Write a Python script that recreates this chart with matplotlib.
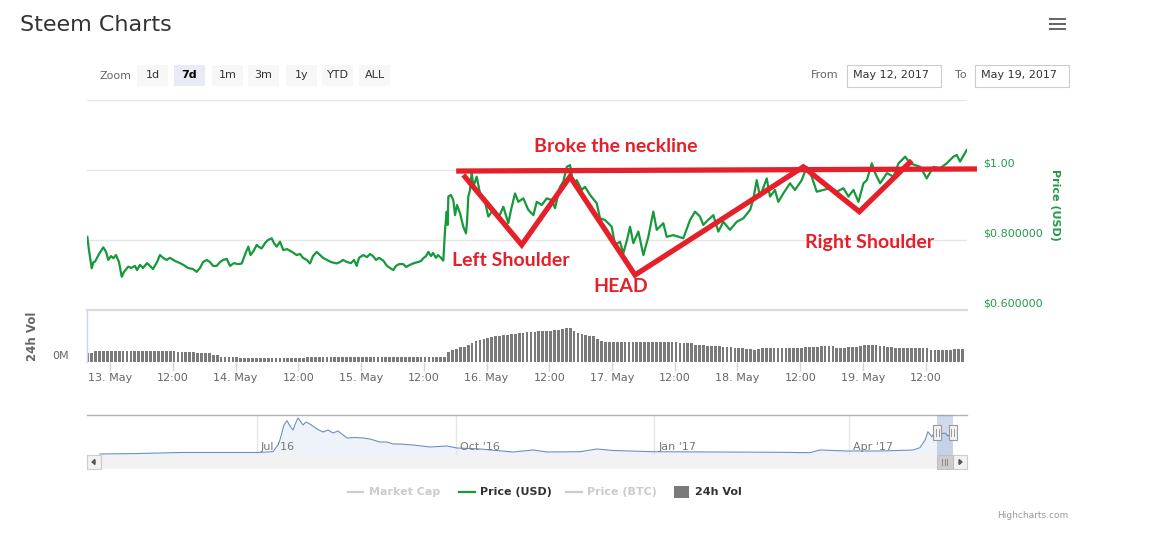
import numpy as np
import matplotlib
matplotlib.use("Agg")
import matplotlib.pyplot as plt
from matplotlib.patches import Rectangle, Polygon

W, H = 1152, 539

# ---------------- data ----------------
# hours relative to 13 May 2017 00:00
price_hours = [-4.34, -4.02, -3.50, -3.16, -2.87, -2.49, -2.10, -1.28, -0.76, -0.33,
               0.19, 0.63, 1.15, 1.72, 2.24, 2.68, 3.50, 4.02, 4.78, 5.16,
               5.74, 6.31, 7.08, 7.65, 8.22, 8.99, 9.56, 10.14, 10.84, 11.47,
               12.43, 13.39, 14.02, 14.92, 15.87, 16.58, 17.21, 17.79, 18.49, 19.12,
               19.70, 20.41, 21.04, 21.61, 22.32, 22.95, 23.71, 24.48, 25.19, 25.63,
               26.01, 26.45, 26.87, 27.35, 28.06, 28.49, 29.01, 29.64, 30.22, 30.92,
               31.36, 31.88, 32.51, 33.14, 33.85, 34.81, 35.70, 36.34, 36.91, 37.62,
               38.25, 38.82, 39.53, 40.16, 40.73, 41.50, 42.26, 43.35, 43.99, 44.56,
               45.32, 46.09, 46.66, 47.18, 47.62, 48.44, 49.15, 49.72, 50.30, 50.87,
               51.44, 52.27, 52.97, 53.55, 54.18, 54.69, 55.27, 56.09, 56.61, 57.37,
               58.14, 58.90, 59.48, 59.92, 60.43, 60.87, 61.39, 61.77, 62.34, 62.73,
               63.30, 63.74, 64.07, 64.39, 64.58, 64.70, 65.16, 65.65, 65.98, 66.36,
               66.93, 67.56, 68.08, 68.27, 68.52, 68.85, 69.17, 69.48, 70.13, 70.76,
               71.72, 72.35, 73.30, 74.26, 75.22, 76.17, 76.69, 77.45, 78.09, 79.04,
               80.00, 80.96, 81.61, 82.56, 83.52, 84.47, 85.10, 86.06, 86.69, 87.34,
               87.97, 88.60, 89.25, 90.21, 90.84, 91.80, 93.08, 93.71, 94.66, 95.95,
               96.58, 97.53, 98.16, 98.87, 99.45, 100.08, 101.04, 102.00, 102.95, 103.90,
               104.56, 105.81, 106.46, 107.73, 109.64, 110.92, 111.88, 112.83, 113.46, 114.36,
               115.38, 116.34, 117.29, 118.57, 119.85, 121.12, 122.41, 122.98, 123.67, 124.31,
               125.59, 126.22, 127.17, 127.80, 128.76, 130.04, 131.00, 132.28, 133.24, 134.19,
               135.15, 136.42, 137.70, 138.98, 140.26, 141.22, 142.17, 143.13, 144.09, 144.74,
               145.69, 146.33, 147.28, 148.57, 149.83, 150.79, 152.07, 153.03, 153.99, 154.95,
               156.19, 157.45, 158.73, 160.01, 161.28, 161.93, 162.56, 163.84]
price_usd = [0.809, 0.771, 0.719, 0.737, 0.738, 0.749, 0.760, 0.779, 0.766, 0.743,
             0.754, 0.748, 0.757, 0.737, 0.695, 0.709, 0.724, 0.720, 0.726, 0.714,
             0.729, 0.720, 0.734, 0.726, 0.717, 0.737, 0.757, 0.749, 0.743, 0.749,
             0.740, 0.734, 0.729, 0.720, 0.717, 0.709, 0.720, 0.737, 0.743, 0.737,
             0.726, 0.726, 0.737, 0.743, 0.746, 0.726, 0.734, 0.731, 0.733, 0.751,
             0.766, 0.781, 0.757, 0.766, 0.786, 0.780, 0.776, 0.791, 0.800, 0.805,
             0.791, 0.781, 0.795, 0.771, 0.774, 0.766, 0.757, 0.760, 0.749, 0.743,
             0.733, 0.754, 0.766, 0.757, 0.749, 0.743, 0.737, 0.733, 0.737, 0.743,
             0.737, 0.734, 0.743, 0.726, 0.749, 0.757, 0.751, 0.760, 0.754, 0.743,
             0.749, 0.741, 0.726, 0.720, 0.714, 0.726, 0.731, 0.731, 0.723, 0.729,
             0.734, 0.737, 0.740, 0.748, 0.754, 0.766, 0.754, 0.763, 0.749, 0.757,
             0.749, 0.741, 0.829, 0.881, 0.843, 0.924, 0.929, 0.914, 0.871, 0.900,
             0.877, 0.838, 0.819, 0.851, 0.924, 0.943, 0.995, 0.952, 0.981, 0.933,
             0.909, 0.867, 0.886, 0.862, 0.895, 0.848, 0.886, 0.933, 0.909, 0.919,
             0.886, 0.871, 0.909, 0.900, 0.919, 0.914, 0.891, 0.952, 0.967, 1.009,
             1.014, 0.962, 0.971, 0.943, 0.952, 0.929, 0.905, 0.862, 0.857, 0.838,
             0.786, 0.795, 0.762, 0.800, 0.838, 0.791, 0.824, 0.757, 0.809, 0.881,
             0.829, 0.848, 0.809, 0.814, 0.805, 0.857, 0.881, 0.867, 0.843, 0.857,
             0.871, 0.824, 0.852, 0.829, 0.852, 0.862, 0.886, 0.914, 0.971, 0.924,
             0.976, 0.924, 0.943, 0.909, 0.933, 0.962, 0.943, 0.971, 1.009, 0.981,
             0.938, 0.943, 0.948, 0.938, 0.948, 0.924, 0.943, 0.909, 0.962, 0.971,
             1.019, 0.991, 0.962, 0.991, 0.981, 1.019, 1.038, 1.019, 1.014, 1.009,
             0.976, 1.009, 1.005, 1.019, 1.038, 1.043, 1.024, 1.057]

# 24h volume bars (millions USD), one bar every 45 minutes from -4.25 h
vol_first_hour = -4.25
vol_step_hours = 0.75
vol_musd = [4.5, 4.5, 5.5, 5.5, 5.5, 5.5, 5.5, 5.5, 5.5, 5.5, 5.5, 5.5,
            5.5, 5.5, 5.5, 5.5, 5.5, 5.5, 5.5, 5.5, 5.5, 5.5, 5.5,
            5.0, 5.0, 5.0, 5.0, 5.0, 4.5, 4.5, 4.5, 4.5, 3.5, 3.5,
            2.5, 2.5, 2.5, 2.5, 2.5,
            2.25, 2.25, 2.25, 2.25, 2.25, 2.25, 2.25, 2.25, 2.25, 2.25, 2.25, 2.25,
            2.25, 2.25, 2.25, 2.25, 2.25,
            2.5, 2.5, 2.5, 2.5, 2.5, 2.5, 2.5, 2.5, 2.5,
            2.75, 2.75, 2.75, 2.75, 2.75, 2.75, 2.75, 2.75,
            2.4, 2.4, 2.4, 2.4, 2.4, 2.4, 2.4, 2.4, 2.4, 2.4, 2.4, 2.4,
            2.4, 2.4, 2.4, 2.4, 2.4, 2.4, 2.4,
            5.0, 6.0, 6.75, 7.5, 7.75, 8.5, 9.5, 10.5, 11.25, 11.5,
            12.0, 12.5, 13.0, 13.25, 13.5, 13.75, 14.0, 14.25, 14.5, 14.75,
            15.0, 15.0, 15.25, 15.5, 15.5, 15.75, 15.75, 16.0, 16.0, 16.5,
            17.25, 17.0, 15.5, 14.5, 14.0, 13.5, 13.25, 13.25, 11.5, 10.5,
            10.0, 10.0, 10.1, 10.1, 10.0, 10.0, 10.0, 10.0, 10.0, 10.0,
            10.0, 10.0, 9.9, 9.9, 10.0, 10.0, 10.0, 10.2, 10.1,
            9.75, 9.75, 9.75, 9.75, 8.75, 8.75, 8.75, 8.25, 8.25, 8.25, 8.25,
            7.75, 7.75, 7.75, 7.0, 7.0, 7.0, 6.5, 6.5, 6.0, 6.5, 7.0,
            7.25, 7.25, 7.25, 7.25, 7.25, 7.25, 7.25, 7.25, 7.25, 7.25,
            7.75, 7.75, 7.75, 7.75, 8.0, 8.0, 8.0, 8.0, 7.25, 7.25, 7.25,
            7.5, 7.5, 7.5, 8.25, 8.5, 8.75, 8.75, 8.5, 8.25, 8.0, 7.75, 7.5,
            7.25, 7.25, 7.25, 7.25, 7.25, 7.25, 7.25, 7.25, 7.25,
            6.25, 6.25, 6.25, 6.25, 6.25, 6.25, 6.75, 6.75, 6.75]

x_tick_hours = [0, 12, 24, 36, 48, 60, 72, 84, 96, 108, 120, 132, 144, 156]
x_tick_labels = ["13. May", "12:00", "14. May", "12:00", "15. May", "12:00", "16. May",
                 "12:00", "17. May", "12:00", "18. May", "12:00", "19. May", "12:00"]
x_range_hours = [-4.40, 163.89]

price_ticks = [0.6, 0.8, 1.0]
price_tick_labels = ["$0.600000", "$0.800000", "$1.00"]
price_range = [0.6, 1.2]
vol_range = [0, 26]

# navigator (market cap, millions USD) -- days since 1 Jul 2016
nav_days = [-72.7, -54.2, -35.6, -17.1, 0.0, 7.4, 9.7, 10.6, 12.5, 13.9, 15.3, 16.7, 18.1,
            19.0, 21.3, 22.7, 24.5, 27.8, 30.6, 32.9, 35.2, 37.5, 41.7, 45.4, 49.1, 52.3,
            56.9, 60.2, 63.0, 66.2, 72.2, 80.1, 88.0, 92.6, 103.2, 118.5, 127.8, 134.3,
            149.5, 157.4, 164.8, 183.3, 211.1, 242.1, 256.0, 260.6, 273.1, 288.4, 303.7,
            306.9, 309.3, 310.6, 312.5, 313.9, 316.2, 318.5, 319.9, 321.8]
nav_mcap = [10, 15, 25, 25, 25, 33, 100, 150, 300, 343, 290, 250, 330,
            370, 300, 330, 310, 260, 230, 250, 220, 240, 170, 175, 170, 160,
            130, 130, 110, 110, 100, 80, 90, 70, 60, 30, 50, 30,
            33, 60, 45, 33, 30, 27, 23, 50, 40, 40, 50,
            73, 150, 233, 183, 233, 210, 220, 190, 220]
nav_tick_days = [0, 92, 184, 274]
nav_tick_labels = ["Jul '16", "Oct '16", "Jan '17", "Apr '17"]
nav_range_days = [-78.7, 328.7]
nav_selected_days = [315, 322]

# head & shoulders annotation drawn on top
pattern_hours = [67.57, 78.73, 87.97, 100.40, 132.59, 143.30, 153.32]
pattern_price = [0.986, 0.786, 0.981, 0.700, 1.009, 0.881, 1.027]
neck_hours = [66.2, 165.8]
neck_price = [0.997, 1.003]

zoom_buttons = ["1d", "7d", "1m", "3m", "1y", "YTD", "ALL"]
legend_items = ["Market Cap", "Price (USD)", "Price (BTC)", "24h Vol"]

# ---------------- style ----------------
GREEN = "#16993a"
RED = "#e5202a"
GRID = "#e6e6e6"
TXT = "#333333"
GREY_TXT = "#666666"
FONT = "DejaVu Sans"
plt.rcParams["font.family"] = [FONT]

fig = plt.figure(figsize=(W / 100, H / 100), dpi=100)


def px_axes(x0, y0, x1, y1, **kw):
    return fig.add_axes([x0 / W, 1 - y1 / H, (x1 - x0) / W, (y1 - y0) / H], **kw)


PX = 0.72  # points per pixel

# ---- price pane ----
ax = px_axes(87, 100, 967, 310)
ax.plot(price_hours, price_usd, color=GREEN, lw=1.6, zorder=3, solid_joinstyle="round")
ax.set_xlim(*x_range_hours)
ax.set_ylim(*price_range)
ax.set_yticks(price_ticks + [1.2])
ax.set_yticklabels([])
ax.tick_params(axis="y", length=0)
ax.set_xticks([])
ax.grid(axis="y", color=GRID, lw=1.0)
for s in ax.spines.values():
    s.set_visible(False)
for v, lab in zip(price_ticks, price_tick_labels):
    ax.annotate(lab, xy=(1, v), xycoords=("axes fraction", "data"),
                xytext=(16 * PX, 6 * PX), textcoords="offset points",
                ha="left", va="center", color="#239b47", fontsize=8)

# head & shoulders annotation
ax.plot(neck_hours, neck_price, color=RED, lw=3.8, clip_on=False, zorder=5,
        solid_capstyle="butt")
ax.plot(pattern_hours, pattern_price, color=RED, lw=3.8, clip_on=False, zorder=5,
        solid_capstyle="butt", solid_joinstyle="miter")
ann_kw = dict(color=RED, fontsize=14, fontweight="bold", family="Lato",
              ha="center", va="center", zorder=6)
ax.text(96.8, 1.066, "Broke the neckline", **ann_kw)
ax.text(76.7, 0.740, "Left Shoulder", **ann_kw)
ax.text(97.7, 0.666, "HEAD", **ann_kw)
ax.text(145.2, 0.794, "Right Shoulder", **ann_kw)

# ---- volume pane ----
axv = px_axes(87, 310, 967, 362)
vol_hours = vol_first_hour + vol_step_hours * np.arange(len(vol_musd))
axv.bar(vol_hours, vol_musd, width=0.52, color="#7a7a7a", linewidth=0)
axv.set_xlim(*x_range_hours)
axv.set_ylim(*vol_range)
axv.set_yticks([])
for k in ["top", "right", "bottom"]:
    axv.spines[k].set_visible(False)
axv.spines["left"].set_color("#ccd6eb")
axv.spines["left"].set_linewidth(1.0)
axv.axhline(vol_range[1], color="#dcdcdc", lw=1.6, clip_on=False)
axv.set_xticks(x_tick_hours)
axv.set_xticklabels(x_tick_labels)
axv.tick_params(axis="x", direction="out", length=9 * PX, width=1, color="#ccd6eb",
                labelcolor=GREY_TXT, labelsize=8, pad=1.5)
axv.annotate("0M", xy=(0, 0), xycoords=("axes fraction", "data"),
             xytext=(-18 * PX, 6 * PX), textcoords="offset points",
             ha="right", va="center", color=GREY_TXT, fontsize=8)

# ---- navigator ----
axn = px_axes(87, 415, 967, 455)
axn.fill_between(nav_days, nav_mcap, 0, color="#eef3fa", lw=0, zorder=1)
axn.plot(nav_days, nav_mcap, color="#6f8fbf", lw=0.8, zorder=2)
axn.set_xlim(*nav_range_days)
axn.set_ylim(0, 400)
axn.set_yticks([])
axn.set_xticks(nav_tick_days)
axn.set_xticklabels([])
axn.tick_params(axis="x", length=0)
axn.grid(axis="x", color=GRID, lw=1.0)
for s in axn.spines.values():
    s.set_visible(False)
axn.axhline(400, color="#b2b2b2", lw=1.0, clip_on=False)
for d, lab in zip(nav_tick_days, nav_tick_labels):
    axn.annotate(lab, xy=(d, 0), xycoords=("data", "axes fraction"),
                 xytext=(4 * PX, 8 * PX), textcoords="offset points",
                 ha="left", va="center", color="#777777", fontsize=8, zorder=3)
axn.axvspan(nav_selected_days[0], nav_selected_days[1], color="#6685c2", alpha=0.3,
            lw=0, zorder=4)

# ---------------- UI overlay (pixel coordinates) ----------------
ui = fig.add_axes([0, 0, 1, 1], zorder=10)
ui.set_xlim(0, W)
ui.set_ylim(H, 0)
ui.axis("off")
ui.patch.set_alpha(0)

ui.text(20, 25, "Steem Charts", fontsize=16, color=TXT, va="center", ha="left")
for yy in [19, 24, 29]:
    ui.add_patch(Rectangle((1049, yy - 1.3), 17, 2.6, color="#666666", lw=0))

ui.text(132, 76, "Zoom", fontsize=8, color=GREY_TXT, ha="right", va="center")
bx = [137, 174, 212, 248, 286, 322, 359]
for x0, lab in zip(bx, zoom_buttons):
    sel = lab == "7d"
    ui.add_patch(Rectangle((x0, 65), 31, 21, facecolor="#e6ebf5" if sel else "#f7f7f7",
                           edgecolor="none"))
    ui.text(x0 + 15.5, 75.5, lab, fontsize=8, color="#000000" if sel else TXT,
            fontweight="bold" if sel else "normal", ha="center", va="center")

ui.text(838, 75, "From", fontsize=8, color=GREY_TXT, ha="right", va="center")
ui.text(967, 75, "To", fontsize=8, color=GREY_TXT, ha="right", va="center")
for x0, lab in [(847, "May 12, 2017"), (975, "May 19, 2017")]:
    ui.add_patch(Rectangle((x0, 65), 94, 22, facecolor="white", edgecolor="#cccccc", lw=0.8))
    ui.text(x0 + 6, 75.5, lab, fontsize=8, color=TXT, ha="left", va="center")

ui.text(1055, 205, "Price (USD)", rotation=270, fontsize=8, fontweight="bold",
        color="#239b47", ha="center", va="center")
ui.text(33, 336, "24h Vol", rotation=90, fontsize=8.5, fontweight="bold",
        color=GREY_TXT, ha="center", va="center")

# scrollbar
ui.add_patch(Rectangle((87, 455), 880, 14, facecolor="#f2f2f2", edgecolor="none"))
ui.add_patch(Rectangle((87, 455), 14, 14, facecolor="#f2f2f2", edgecolor="#cccccc", lw=0.8))
ui.add_patch(Polygon([[95, 459.5], [95, 464.5], [92, 462]], closed=True, color="#555555"))
ui.add_patch(Rectangle((953, 455), 14, 14, facecolor="#f2f2f2", edgecolor="#cccccc", lw=0.8))
ui.add_patch(Polygon([[959, 459.5], [959, 464.5], [962, 462]], closed=True, color="#555555"))
ui.add_patch(Rectangle((937, 455), 15.5, 14, facecolor="#cccccc", edgecolor="#bbbbbb", lw=0.6))
for xx in [942, 944.5, 947]:
    ui.plot([xx, xx], [459, 465], color="#888888", lw=0.7)
# navigator handles
for xh in [937.4, 952.5]:
    ui.add_patch(Rectangle((xh - 4, 425), 8, 15, facecolor="#f2f2f2", edgecolor="#999999",
                           lw=0.8))
    for dx in [-1.2, 1.2]:
        ui.plot([xh + dx, xh + dx], [429, 436], color="#999999", lw=0.7)

# legend
ui.plot([348, 363], [492, 492], color="#cccccc", lw=1.6)
ui.text(369, 492, legend_items[0], fontsize=8, fontweight="bold", color="#cccccc", va="center")
ui.plot([459, 475], [492, 492], color=GREEN, lw=1.6)
ui.text(480, 492, legend_items[1], fontsize=8, fontweight="bold", color=TXT, va="center")
ui.plot([566, 582], [492, 492], color="#cccccc", lw=1.6)
ui.text(587, 492, legend_items[2], fontsize=8, fontweight="bold", color="#cccccc", va="center")
ui.add_patch(Rectangle((674, 486), 15, 12, color="#7a7a7a", lw=0))
ui.text(695, 492, legend_items[3], fontsize=8, fontweight="bold", color=TXT, va="center")

ui.text(1068, 515, "Highcharts.com", fontsize=6.5, color="#999999", ha="right", va="center")

fig.savefig("out.png", dpi=100)
